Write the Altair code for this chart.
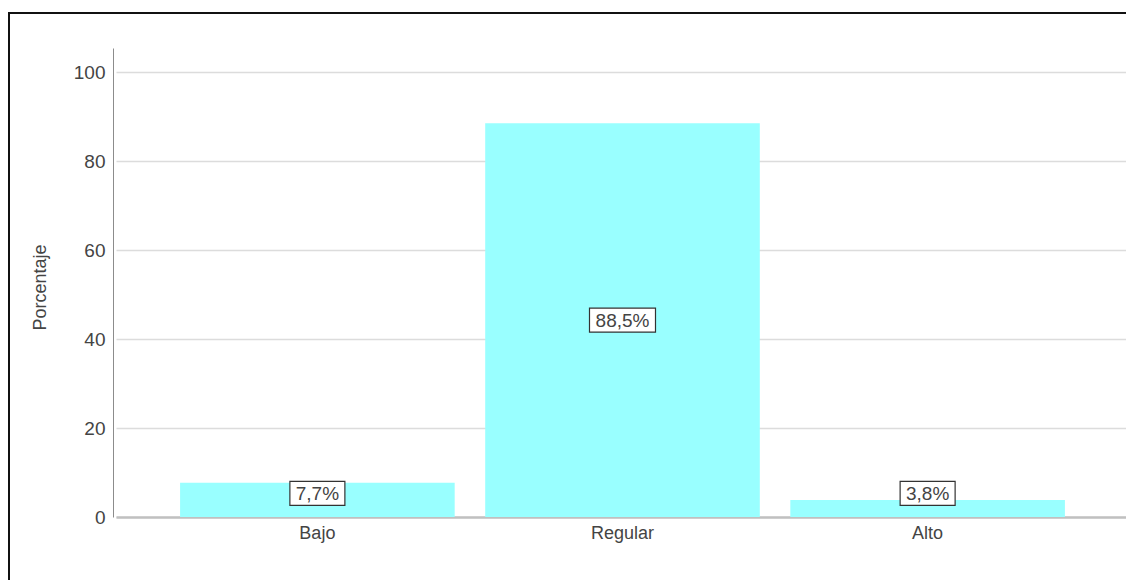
import altair as alt
import pandas as pd

categories = ["Bajo", "Regular", "Alto"]
values = [7.7, 88.5, 3.8]
labels = [f"{v:.1f}".replace(".", ",") + "%" for v in values]

df = pd.DataFrame({"cat": categories, "v": values, "lab": labels})

FONT = "Liberation Sans"
TXT = "#444444"

x = alt.X("cat:N", sort=categories, title=None,
          scale=alt.Scale(paddingInner=0.1, paddingOuter=0.21, range=[3, 1016]),
          axis=alt.Axis(labelAngle=0, labelFontSize=18, labelColor=TXT,
                        labelFont=FONT, labelPadding=7, ticks=False,
                        domainColor="#c0c0c0", domainWidth=2.5, grid=False))

yscale = alt.Scale(domain=[0, 105.4], nice=False)

bars = alt.Chart(df).mark_bar(color="#99FFFF").encode(
    x=x,
    y=alt.Y("v:Q", scale=yscale, title="Porcentaje",
            axis=alt.Axis(values=[0, 20, 40, 60, 80, 100], labelFontSize=19,
                          labelColor=TXT, labelFont=FONT, labelPadding=8,
                          ticks=False, domainColor="#8c8c8c", domainWidth=1,
                          gridColor="#dcdcdc", gridWidth=1.5,
                          titleFont=FONT, titleFontSize=18,
                          titleFontWeight="normal", titleColor=TXT,
                          titleX=-64, titleY=239)),
)

base = alt.Chart(df).transform_calculate(
    pos="max(datum.v / 2, 5.3)",
    lo="max(datum.v / 2, 5.3) - 2.7",
    hi="max(datum.v / 2, 5.3) + 2.7",
    bw="length(datum.lab) * 11 + 11",
)

boxes = base.mark_bar(fill="white", stroke="#333333", strokeWidth=1.2).encode(
    x=alt.X("cat:N", sort=categories),
    y=alt.Y("lo:Q", scale=yscale),
    y2="hi:Q",
    size=alt.Size("bw:Q", scale=None, legend=None),
)

texts = base.mark_text(font=FONT, fontSize=19, color=TXT, baseline="middle", dy=1).encode(
    x=alt.X("cat:N", sort=categories),
    y=alt.Y("pos:Q", scale=yscale),
    text="lab:N",
)

frame = alt.Chart(alt.Data(values=[{"a": 1}])).mark_rect(
    fill="transparent", stroke="#111111", strokeWidth=2
).encode(
    x=alt.value(-104), x2=alt.value(1100),
    y=alt.value(-35), y2=alt.value(700),
)

chart = alt.layer(bars, boxes, texts, frame).properties(
    width=1013, height=469,
    padding={"left": 105, "top": 40, "right": 0, "bottom": 63},
    autosize=alt.AutoSizeParams(type="none"),
).configure(background="white").configure_view(strokeWidth=0)

chart.save("out.html", embed_options={"renderer": "svg", "actions": False})
